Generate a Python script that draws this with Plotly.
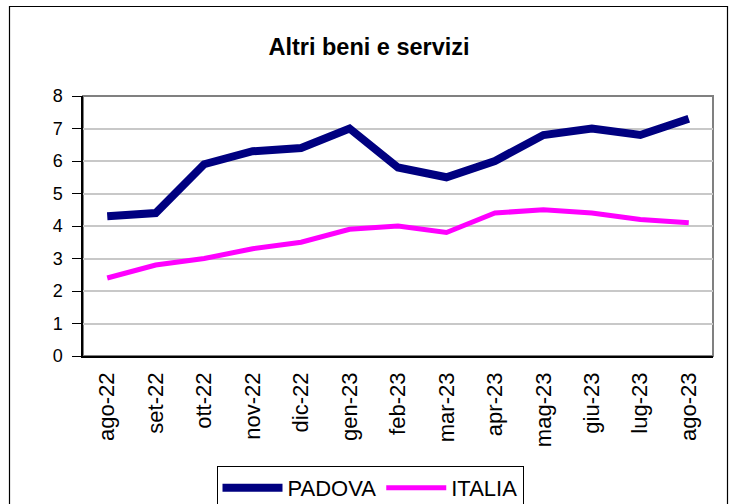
import plotly.graph_objects as go

categories = ["ago-22", "set-22", "ott-22", "nov-22", "dic-22", "gen-23", "feb-23",
              "mar-23", "apr-23", "mag-23", "giu-23", "lug-23", "ago-23"]
padova = [4.3, 4.4, 5.9, 6.3, 6.4, 7.0, 5.8, 5.5, 6.0, 6.8, 7.0, 6.8, 7.3]
italia = [2.4, 2.8, 3.0, 3.3, 3.5, 3.9, 4.0, 3.8, 4.4, 4.5, 4.4, 4.2, 4.1]
y_ticks = [0, 1, 2, 3, 4, 5, 6, 7, 8]

FONT = "Liberation Sans, Arial, sans-serif"

fig = go.Figure()
fig.add_trace(go.Scatter(x=categories, y=padova, mode="lines", name="PADOVA",
                         line=dict(color="#000080", width=8)))
fig.add_trace(go.Scatter(x=categories, y=italia, mode="lines", name="ITALIA",
                         line=dict(color="#FF00FF", width=5)))

L, R, T, B = 83, 23, 96, 148
W, H = 736, 504
pw, ph = W - L - R, H - T - B

def px(x):
    return (x - L) / pw

def py(y):
    return (H - B - y) / ph

fig.update_layout(
    width=W, height=H,
    margin=dict(l=L, r=R, t=T, b=B),
    paper_bgcolor="white", plot_bgcolor="white",
    font=dict(family=FONT, color="black", size=18),
    title=dict(text="<b>Altri beni e servizi</b>", x=369 / W, xanchor="center",
               y=1 - 47 / H, yanchor="middle", font=dict(size=23.5, family=FONT)),
    showlegend=True,
    legend=dict(orientation="h", xref="container", yref="container",
                x=370 / W, xanchor="center", y=1 - 466 / H, yanchor="top",
                bordercolor="black", borderwidth=1, font=dict(size=22, family=FONT),
                itemwidth=60, tracegroupgap=0),
    xaxis=dict(type="category", tickangle=-90, showline=True, linecolor="black", linewidth=1.5,
               ticks="", showgrid=False, mirror=False, ticklabelstandoff=6,
               tickfont=dict(size=22), range=[-0.5, len(categories) - 0.5]),
    yaxis=dict(range=[0, 8], tickvals=y_ticks, showline=True, linecolor="black", linewidth=1.5,
               ticks="outside", ticklen=9, tickcolor="black", gridcolor="#C8C8C8", gridwidth=1.5,
               ticklabelstandoff=6, tickfont=dict(size=18), zeroline=False),
    shapes=[
        dict(type="rect", xref="paper", yref="paper", x0=0, x1=1, y0=0, y1=1,
             line=dict(color="#808080", width=2), layer="below"),
        dict(type="rect", xref="paper", yref="paper", x0=px(9.5), x1=px(727.5), y0=py(520), y1=py(6.5),
             line=dict(color="black", width=1.2)),
    ],
)

fig.write_html("out.html", config={"displayModeBar": False},
               post_script="document.body.style.margin='0px';document.body.style.padding='0px';")
